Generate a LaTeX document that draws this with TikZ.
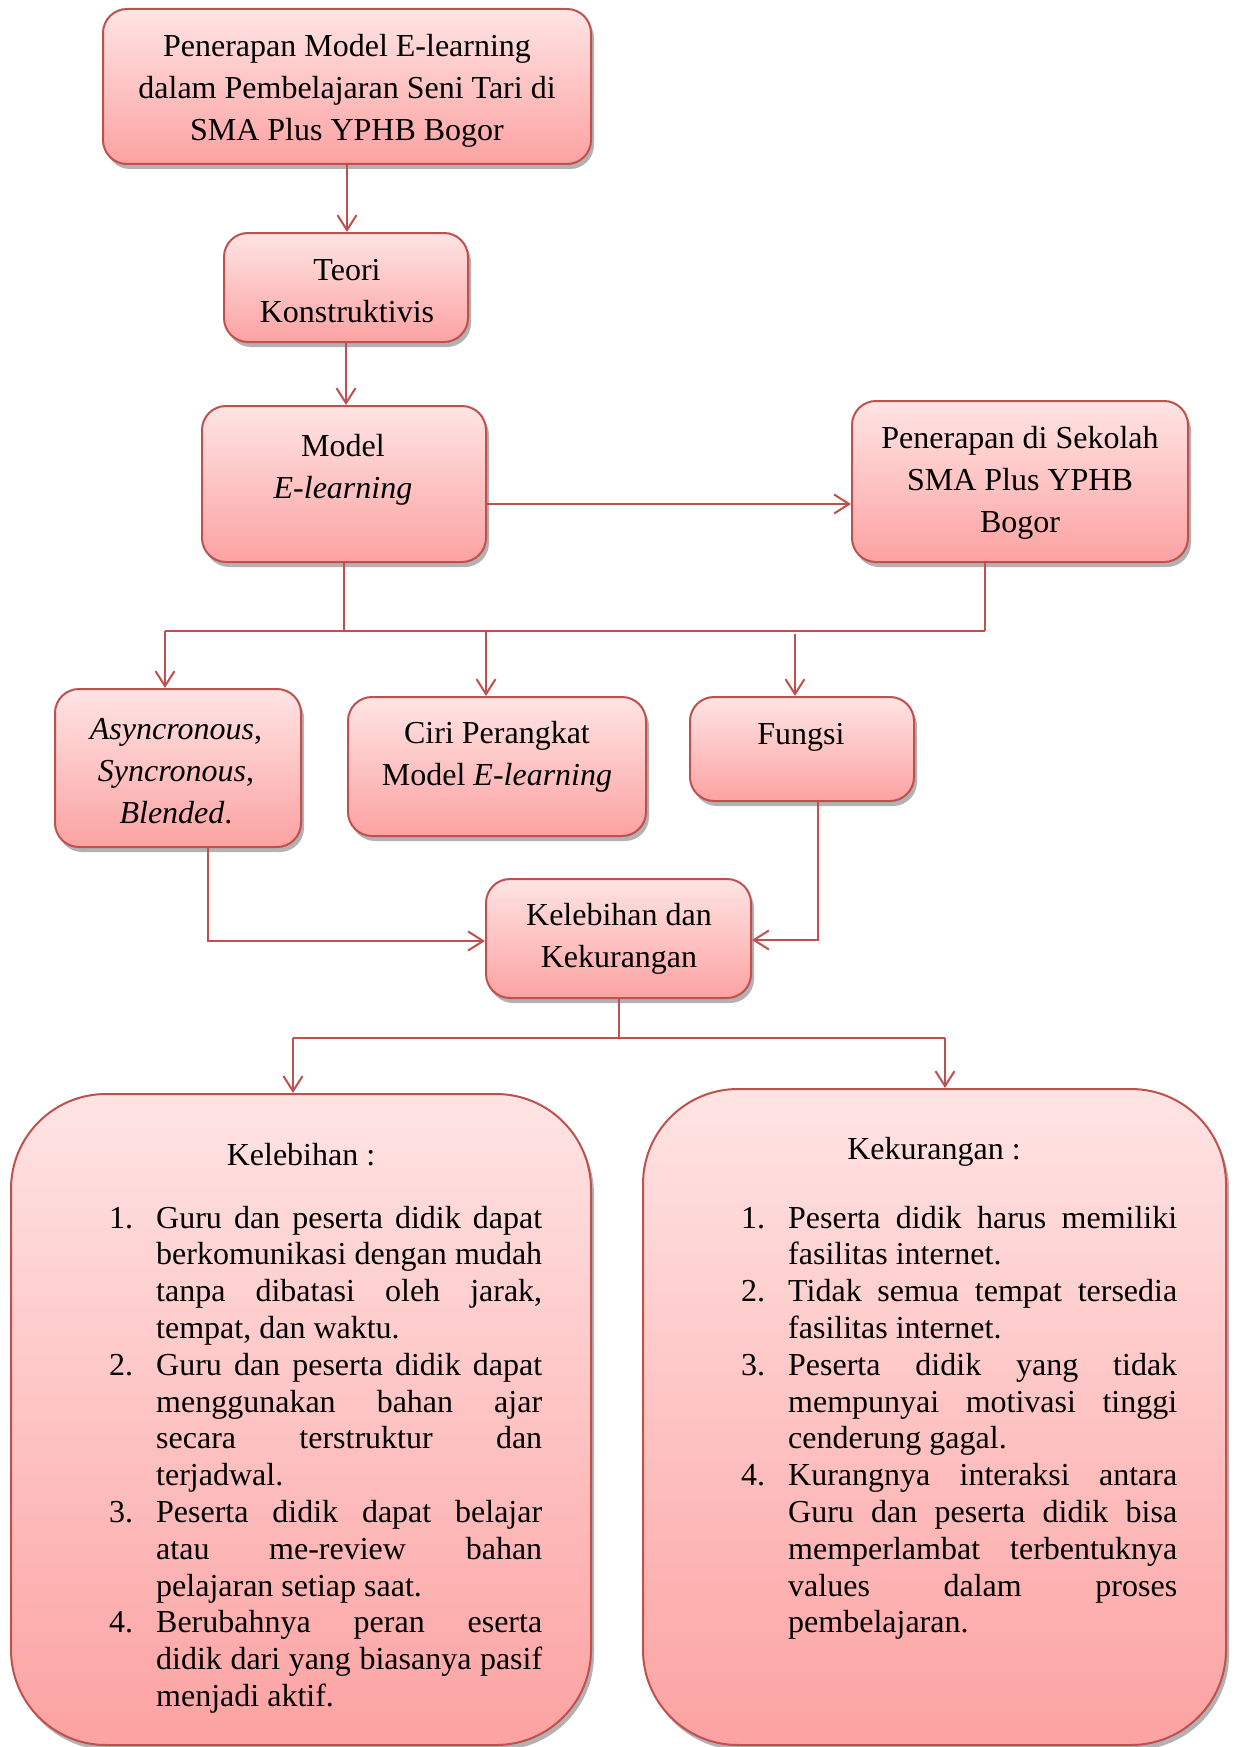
\documentclass[tikz,border=0pt]{standalone}
\usepackage{fontspec}
\setmainfont{Liberation Serif}
\usetikzlibrary{arrows.meta,shadows}
\definecolor{bordr}{HTML}{C0504D}
\definecolor{ftop}{HTML}{FFE4E4}
\definecolor{fbot}{HTML}{FCA2A2}
\newcommand{\boxfont}{\fontsize{32}{42}\selectfont}
\newcommand{\listfont}{\fontsize{32}{36.8}\selectfont}
\newcommand{\itm}[1]{\hangindent=47pt\hangafter=1\noindent\makebox[47pt][l]{#1}}
\tikzset{
  box/.style={draw=bordr, line width=2pt, rounded corners=24pt, top color=ftop, bottom color=fbot,
    inner sep=0pt, drop shadow={shadow xshift=3pt, shadow yshift=-5pt, opacity=0.3, fill=black}},
  bigbox/.style={box, rounded corners=95pt},
  txt/.style={align=center, font=\boxfont, inner sep=0pt},
  listtxt/.style={align=justify, font=\listfont, inner sep=0pt, text width=#1},
  ln/.style={draw=bordr, line width=2pt},
  arr/.style={ln, -{Straight Barb[length=15pt,width=19pt]}}
}
\begin{document}
\begin{tikzpicture}[x=1pt,y=-1pt]
\useasboundingbox (0,0) rectangle (1235,1747);
% boxes
\node[box, minimum width=488pt, minimum height=155pt] (b1) at (347,86.5) {};
\node[box, minimum width=244pt, minimum height=109pt] (b2) at (346,287.5) {};
\node[box, minimum width=284pt, minimum height=156pt] (b3) at (344,484) {};
\node[box, minimum width=336pt, minimum height=161pt] (b4) at (1020,481.5) {};
\node[box, minimum width=246pt, minimum height=158pt] (b5) at (178,768) {};
\node[box, minimum width=298pt, minimum height=139pt] (b6) at (497,766.5) {};
\node[box, minimum width=224pt, minimum height=104pt] (b7) at (802,749) {};
\node[box, minimum width=265pt, minimum height=119pt] (b8) at (618.5,938.5) {};
\node[bigbox, minimum width=580pt, minimum height=651pt] (g1) at (301,1419.5) {};
\node[bigbox, minimum width=583pt, minimum height=656pt] (g2) at (934.5,1417) {};
% texts
\node[txt] (t1) at (347,91) {Penerapan Model E-learning\\dalam Pembelajaran Seni Tari di\\SMA Plus YPHB Bogor};
\node[txt] (t2) at (347,291) {Teori\\Konstruktivis};
\node[txt] (t3) at (343,470) {Model\\\textit{E-learning}};
\node[txt] (t4) at (1020,483) {Penerapan di Sekolah\\SMA Plus YPHB\\Bogor};
\node[txt] (t5) at (176,771) {\textit{Asyncronous},\\\textit{Syncronous},\\\textit{Blended}.};
\node[txt] (t6) at (497,757) {Ciri Perangkat\\Model \textit{E-learning}};
\node[txt] (t7) at (801,737) {Fungsi};
\node[txt] (t8) at (619,939) {Kelebihan dan\\Kekurangan};
\node[font=\boxfont, inner sep=0pt, anchor=base] (h1) at (301,1165) {Kelebihan :};
\node[font=\boxfont, inner sep=0pt, anchor=base] (h2) at (934,1159) {Kekurangan :};
\node[listtxt=433pt, anchor=base west] (l1) at (109,1228) {%
\pretolerance=-1\tolerance=10000\hyphenpenalty=10000\exhyphenpenalty=10000\parindent=0pt
\itm{1.}Guru dan peserta didik dapat \linebreak berkomunikasi dengan mudah \linebreak tanpa dibatasi oleh jarak, \linebreak tempat, dan waktu.\par
\itm{2.}Guru dan peserta didik dapat \linebreak menggunakan bahan ajar \linebreak secara terstruktur dan \linebreak terjadwal.\par
\itm{3.}Peserta didik dapat belajar \linebreak atau me-review bahan \linebreak pelajaran setiap saat.\par
\itm{4.}Berubahnya peran eserta \linebreak didik dari yang biasanya pasif \linebreak menjadi aktif.\par};
\node[listtxt=436pt, anchor=base west] (l2) at (741,1228) {%
\pretolerance=-1\tolerance=10000\hyphenpenalty=10000\exhyphenpenalty=10000\parindent=0pt
\itm{1.}Peserta didik harus memiliki \linebreak fasilitas internet.\par
\itm{2.}Tidak semua tempat tersedia \linebreak fasilitas internet.\par
\itm{3.}Peserta didik yang tidak \linebreak mempunyai motivasi tinggi \linebreak cenderung gagal.\par
\itm{4.}Kurangnya interaksi antara \linebreak Guru dan peserta didik bisa \linebreak memperlambat terbentuknya \linebreak values dalam proses \linebreak pembelajaran.\par};
% coordinates
\coordinate (ja) at (165,631);
\coordinate (jb) at (985,631);
\coordinate (jc) at (486,631);
\coordinate (jd) at (795,634);
\coordinate (ar) at (0,504);
\coordinate (k1) at (208,941);
\coordinate (k2) at (818,940);
\coordinate (m1) at (293,1038);
\coordinate (m2) at (945,1038);
% connectors
\draw[arr] (b1.south) -- (b1.south |- b2.north);
\draw[arr] (b2.south) -- (b2.south |- b3.north);
\draw[arr] (b3.east |- ar) -- (b4.west |- ar);
\draw[ln] (b3.south) -- (b3.south |- ja);
\draw[ln] (b4.south -| jb) -- (jb);
\draw[ln] (ja) -- (jb);
\draw[arr] (ja) -- (ja |- b5.north);
\draw[arr] (jc) -- (jc |- b6.north);
\draw[arr] (jd) -- (jd |- b7.north);
\draw[arr] (b5.south -| k1) -- (k1) -- (b8.west |- k1);
\draw[arr] (b7.south -| k2) -- (k2) -- (b8.east |- k2);
\draw[ln] (b8.south) -- (b8.south |- m1);
\draw[ln] (m1) -- (m2);
\draw[arr] (m1) -- (m1 |- g1.north);
\draw[arr] (m2) -- (m2 |- g2.north);
\end{tikzpicture}
\end{document}
